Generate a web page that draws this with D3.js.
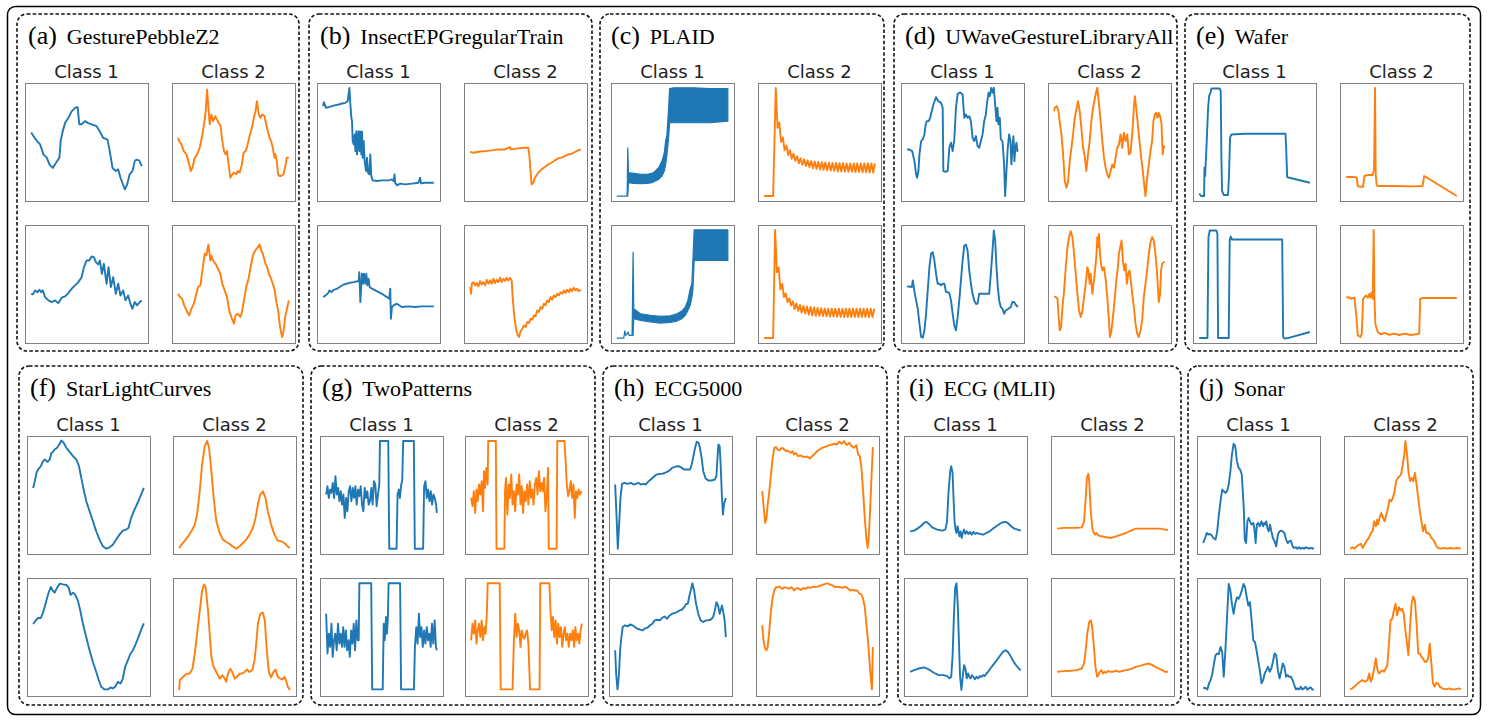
<!DOCTYPE html>
<html>
<head>
<meta charset="utf-8">
<script src="https://cdn.jsdelivr.net/npm/d3@7"></script>
<style>
  html, body { margin: 0; padding: 0; background: #fff; }
  svg { display: block; }
</style>
</head>
<body>
<svg id="chart" width="1488" height="720"></svg>
<script>
// Each series: [t, v] with t = % of series length, v = % of the axes height
// (PLAID class 1 is drawn as an envelope band: [t, upper, lower])

// (a) GesturePebbleZ2
const gestureC1A = [[0,58],[2.1,55],[5.1,51],[8.1,48],[11.1,39.5],[14.1,36.7],[16.5,31],[19.5,28],[22.5,32.4],[25.5,36.7],[26.7,51],[28.5,59],[30.6,66],[33.6,70.5],[36.6,76],[39.6,79],[42,79.5],[43.5,65],[45.6,65],[48.6,67.7],[51.6,66],[54.6,65],[59,63.5],[62,59],[65,53.6],[69,52],[71,42.3],[73.5,28],[76.5,25.4],[78.6,26.8],[80.7,19.7],[83,14],[84.6,9.9],[86.7,14],[89,22.6],[91.5,25.4],[93.6,33.8],[95,35],[97.5,34.4],[100,29.6]];
const gestureC2A = [[0,53.6],[0.9,50.8],[3,48],[5.1,42.3],[7.5,39.5],[9.6,32.4],[11.4,25.4],[12.9,28.2],[15,36.7],[17.1,39.5],[19.5,45],[21.9,56.4],[23.4,64.9],[24.9,76.1],[26.1,94.5],[27.6,76],[28.5,65],[30,73.3],[31.5,67.7],[33.6,71.9],[35.1,69],[36.6,66.3],[38.4,63.5],[39.9,50.8],[41.4,42.3],[42.9,39.5],[44.1,42.3],[45.6,31],[47.1,19.7],[48.9,22.6],[50.4,24],[52.5,22.6],[54,25.4],[55.5,24],[57.6,31],[59.1,40.9],[60.9,42.3],[62.4,46.5],[64.5,55],[66.6,62],[68.4,70.5],[69.9,76],[71.1,84.6],[72.9,73.3],[74.4,70.5],[75.9,73.3],[78,72],[79.5,65],[81,59.2],[82.5,53.6],[84,50.8],[85.5,45],[87,36.7],[87.9,39.5],[89.1,33.8],[90.3,22.6],[91.5,21.2],[93,21.2],[95.1,22.6],[96.9,29.6],[98.1,36.7],[100,36.7]];
const gestureC1B = [[0,41.7],[1.5,41.2],[3.6,44.6],[5.7,43.1],[7.5,45.1],[9,43.1],[10.5,44.6],[12.6,38.9],[15.6,36.1],[18.6,34.7],[21.6,36.1],[24.6,33.8],[27.6,38.4],[30.6,39.5],[33.6,42.3],[36.6,46],[39.6,48.8],[42.6,51.6],[45.6,55.8],[47.7,64.3],[50.1,69.9],[52.5,69.9],[54.6,73.3],[56.7,72.8],[58.5,68.5],[60.6,66.6],[62.1,69.9],[63.9,58.7],[65.7,67.1],[68.1,50.2],[69.9,64.3],[72,47.4],[74.1,55.8],[76.5,41.7],[78.6,50.2],[80.7,40.3],[83.1,44.6],[85.2,36.1],[87.6,40.3],[89.7,33.3],[91.5,29],[93.6,34.7],[95.7,31.9],[98.1,34.7],[100,36.1]];
const gestureC2B = [[0,41.7],[1.5,38.9],[3.6,37.5],[5.4,31.9],[7.5,27.6],[9.9,23.4],[12,29],[14.1,33.3],[16.5,41.7],[18,47.4],[20.1,48.8],[21.9,61.5],[24,75.6],[25.5,74.2],[27.3,83.5],[29.1,69.9],[30,74.2],[31.5,69.9],[33.9,67.1],[36,62.9],[38.1,58.7],[39.9,50.2],[42,44.6],[44.1,38.9],[46.5,26.2],[48.6,20.6],[50.4,16.4],[51.9,23.4],[54,24.8],[56.1,22],[57.6,26.2],[59.4,36.1],[61.5,47.4],[63.9,55.8],[65.7,65.7],[67.5,74.2],[69.6,78.4],[72,81.2],[73.5,83.5],[75,78.4],[76.5,75.6],[78.9,67.1],[80.4,64.3],[81.9,58.7],[83.4,55.8],[85.5,50.2],[87.3,44.6],[88.5,36.1],[90.3,27.6],[92.1,13.5],[93.9,5.1],[95.1,9.3],[96.9,23.4],[98.7,30.5],[100,36.1]];

// (b) InsectEPGregularTrain
const insectC1A = [[0,80.4],[0.6,83.8],[2.7,79],[5.1,79.5],[8.1,80.4],[11.1,81.2],[14.1,81.8],[17.1,82.6],[20.1,83.2],[22.2,84.6],[23.1,91.7],[23.7,95.9],[24.6,81.8],[25.5,70.5],[26.1,67.7],[26.7,50.8],[27.6,48],[28.5,56.4],[29.1,42.3],[30,59.2],[30.6,39.5],[31.5,55],[32.1,59.2],[32.7,42.3],[33.6,58.7],[34.5,39.5],[35.1,58.7],[35.7,36.7],[36.6,50.8],[37.5,33.8],[38.7,25.4],[39.6,36.7],[40.5,24],[41.7,22.6],[42.6,39.5],[43.5,21.2],[44.7,17.5],[48.6,16.9],[53.1,17.5],[59.1,17.5],[62.1,18.3],[63.6,16.9],[64.5,22.6],[65.1,15.5],[66.6,13.3],[69.6,14.7],[74.1,14.1],[80.1,14.7],[86.1,15.5],[87.6,19.7],[88.5,14.9],[92.1,15.5],[96.6,15.5],[100,15.5]];
const insectC2A = [[0,41.7],[3,40.9],[7.5,41.7],[13.5,42.3],[19.5,42.9],[25.5,43.7],[31.5,43.7],[36,45.7],[36.9,43.7],[43.5,44.6],[49.5,45.1],[52.5,45.1],[53.4,39.5],[54.3,28.2],[55.5,14.1],[57,15.5],[58.5,19.7],[61.5,24],[64.5,26.8],[67.5,28.8],[70.5,31],[73.5,32.4],[76.5,34.4],[79.5,36.1],[82.5,36.7],[85.5,38.1],[88.5,39.5],[91.5,40],[94.5,41.5],[97.5,42.9],[100,43.7]];
const insectC1B = [[0,38.9],[2.1,40.3],[4.5,42.3],[5.7,44.6],[7.5,43.1],[9.6,45.1],[12.6,46],[15.6,47.9],[18.6,49.6],[23.1,50.8],[27.6,51.6],[32.1,52.5],[32.7,60.1],[33.6,34.7],[34.5,50.2],[35.1,58.7],[36,50.2],[36.9,58.7],[38.1,50.2],[39,58.7],[39.9,48.8],[41.1,54.4],[42,47.4],[44.1,46],[47.1,44.6],[53.1,41.7],[57.6,38.9],[59.7,37.5],[60.6,46],[61.2,20.6],[62.1,30.5],[63.6,31.9],[66.6,33.3],[71.1,30.5],[77.1,31],[83.1,30.5],[89.1,31],[95.1,31],[100,31]];
const insectC2B = [[0,47.4],[0.9,41.7],[1.5,50.2],[3,51.6],[4.5,48.8],[6,50.8],[7.5,47.9],[9,52.5],[10.5,49.6],[12,51.6],[13.5,48.8],[15,53.6],[16.5,50.2],[18,53],[19.5,50.2],[21,54.4],[22.5,50.8],[24,53.6],[25.5,51.6],[27,55.3],[28.5,51.6],[30,54.4],[31.5,52.5],[33,55.3],[34.5,53],[36,55.3],[37.5,53],[38.4,38.9],[39.9,22],[41.4,12.1],[42.9,6.5],[44.1,5.1],[45.3,9.3],[47.1,12.1],[48.6,14.9],[50.1,13.5],[51.6,17.8],[53.1,16.9],[54.6,20.6],[56.1,19.7],[57.6,23.4],[59.1,22.6],[60.6,27.6],[62.1,26.2],[63.6,30.5],[65.1,29],[66.6,33.3],[68.1,31.9],[69.6,36.1],[71.1,34.7],[72.6,38.9],[74.1,36.7],[75.6,40.3],[77.1,38.9],[78.6,41.7],[80.1,40.3],[81.6,43.1],[83.1,41.7],[84.6,44.6],[86.1,42.3],[87.6,45.1],[89.1,43.1],[90.6,46],[92.1,43.9],[93.6,46.8],[95.1,44.6],[96.6,46],[98.1,43.9],[100,45.1]];

// (c) PLAID  class 1: [t, upper, lower] envelope of the dense oscillation
const plaidC1A = [[0,4.2,4.2],[9,4.2,4.2],[9.6,45.1,4.2],[10.2,24,15.5],[15,23.4,14.9],[21,22.6,14.7],[27,22.6,14.9],[31.5,23.4,15.5],[34.5,25.4,16.9],[37.5,28.2,18.3],[40.5,33.8,21.2],[42.6,40.9,25.4],[43.8,50.8,31],[45,56.4,39.5],[46.5,79,53.6],[47.4,95.3,66.3],[51,95.9,66.3],[69,95.9,66.3],[84,95.3,66.3],[100,95.3,67.7]];
const plaidC2A = [[0,4.2],[8.1,4.2],[10.5,95.9],[12.1,62],[13.7,66.5],[15.3,50],[16.9,54],[18.5,43],[20.1,47],[21.7,39],[23.3,43],[24.9,35.8],[26.5,40],[28.1,34],[29.7,38],[31.3,32],[32.9,36.2],[34.5,30.6],[36.1,35.3],[37.7,29.7],[39.3,34.6],[40.9,28.8],[42.5,33.8],[44.1,27.8],[45.7,33.4],[47.3,27.2],[48.9,33.2],[50.5,26.8],[52.1,32.9],[53.7,26.4],[55.3,32.6],[56.9,26],[58.5,32.4],[60.1,25.7],[61.7,32.3],[63.3,25.5],[64.9,32.2],[66.5,25.2],[68.1,32],[69.7,25],[71.3,32],[72.9,24.8],[74.5,31.9],[76.1,24.7],[77.7,31.9],[79.3,24.7],[80.9,31.9],[82.5,24.6],[84.1,31.9],[85.7,24.5],[87.3,31.9],[88.9,24.4],[90.5,31.9],[92.1,24.3],[93.7,31.9],[95.3,24.2],[96.9,31.9],[98.5,24.1],[100,31.9]];
const plaidC1B = [[0,4.2,4.2],[6,4.2,4.2],[6.9,10.2,10.2],[7.8,6.5,6.5],[9.9,9.3,9.3],[10.8,6.5,6.5],[13.5,6.5,6.5],[14.4,77,6.5],[15,29,20.6],[21,24.8,19.2],[30,23.4,17.8],[39,22.6,16.9],[48,23.1,17.5],[54,24.8,18.6],[58.5,27.1,20.6],[61.5,30.5,23.4],[63.9,36.1,27.6],[66,46,31.9],[67.5,50.2,38.9],[68.4,69.9,44.6],[69.6,95.9,69.9],[81,95.9,69.9],[100,95.9,69.9]];
const plaidC2B = [[0,4.2],[8.1,4.2],[9.9,95.9],[11.5,60],[13.1,64],[14.7,45.5],[16.3,50],[17.9,39],[19.5,42],[21.1,34.6],[22.7,37.8],[24.3,31.8],[25.9,35.3],[27.5,28.7],[29.1,33.6],[30.7,27.3],[32.3,32.2],[33.9,25.9],[35.5,31.4],[37.1,25],[38.7,30.9],[40.3,24],[41.9,30.5],[43.5,23.3],[45.1,30.2],[46.7,23.1],[48.3,29.8],[49.9,23],[51.5,29.5],[53.1,22.8],[54.7,29.2],[56.3,22.7],[57.9,29],[59.5,22.5],[61.1,29],[62.7,22.4],[64.3,29],[65.9,22.3],[67.5,29],[69.1,22.1],[70.7,29],[72.3,22],[73.9,29],[75.5,22],[77.1,29],[78.7,22],[80.3,29],[81.9,22],[83.5,29],[85.1,22],[86.7,29],[88.3,22],[89.9,29],[91.5,22],[93.1,29],[94.7,22],[96.3,29],[97.9,22],[99.5,29]];

// (d) UWaveGestureLibraryAll
const uwaveC1A = [[0,43.7],[2.1,43.7],[4.5,42.3],[6.6,33.8],[8.1,22.6],[9,19.7],[10.2,25.4],[11.1,39.5],[12.6,50.8],[14.1,52.2],[15.6,56.4],[16.5,63.5],[17.7,67.7],[19.5,67.7],[20.7,70.5],[22.2,76.1],[23.7,81.8],[26.1,88],[28.2,84.6],[30.6,83.2],[32.1,79],[32.7,25.4],[34.5,24.8],[36.6,25.4],[38.1,45.1],[39.6,49.4],[41.1,42.3],[42.6,52.2],[44.1,79],[45.6,90.8],[47.1,91.7],[48.6,91.7],[50.1,90.2],[51.6,70.5],[53.1,73.3],[54.6,70.5],[56.1,71.9],[57.6,67.7],[59.1,53.6],[60.6,50.8],[62.1,55],[63.6,46.5],[65.1,45.1],[66.6,50.8],[68.1,56.4],[69.6,67.7],[71.1,73.3],[72,81.8],[73.5,91.7],[74.7,88.8],[75.9,95.9],[77.1,91.7],[78.3,95.9],[79.5,81.8],[80.7,67.7],[81.6,79],[82.5,64.9],[83.7,70.5],[84.6,52.2],[86.1,50.8],[87.6,31],[88.5,4.2],[89.7,25.4],[90.9,45.1],[92.1,56.4],[93.3,50.8],[94.2,31],[95.1,45.1],[96,55],[96.9,33.8],[97.8,45.1],[98.7,49.4],[99.6,42.3],[100,43.7]];
const uwaveC2A = [[0,76.1],[0.6,79],[2.4,80.4],[3.9,76.1],[5.1,66.3],[6.6,56.4],[8.1,39.5],[9.6,16.9],[11.1,11.3],[12.6,16.9],[14.1,33.8],[15.6,45.1],[17.1,56.4],[18.6,70.5],[20.1,77.6],[21.6,84.6],[23.1,76.1],[24.6,62],[26.1,45.1],[27.6,38.1],[29.1,25.4],[30.6,39.5],[32.1,50.8],[33.6,67.7],[35.1,79],[36.6,86],[38.1,93.1],[39,95.9],[40.5,81.8],[42,67.7],[43.5,50.8],[45,36.7],[46.5,28.2],[48,22.6],[49.5,19.7],[51,25.4],[52.5,31],[54,28.2],[55.5,36.7],[57,45.1],[58.5,47.9],[60,56.4],[61.5,45.1],[63,57.8],[64.5,50.8],[66,56.4],[67.5,39.5],[69,40.9],[70.5,56.4],[72,79],[72.9,88.8],[74.1,79],[75.6,64.9],[77.1,50.8],[78.6,36.7],[80.1,25.4],[81.6,11.3],[82.5,4.2],[83.7,16.9],[85.5,31],[87,42.3],[88.5,50.8],[89.7,67.7],[90.9,73.3],[92.1,74.7],[93.3,70.5],[94.5,74.7],[96,70.5],[96.9,66.3],[98.1,39.5],[99,46.5],[100,45.1]];
const uwaveC1B = [[0,47.9],[2.1,47.9],[4.2,47.4],[5.1,53],[6,47.4],[6.9,41.7],[8.1,36.1],[9.6,29],[11.1,16.4],[12.6,5.1],[14.1,4.5],[15.6,10.7],[17.1,24.8],[18.6,44.6],[20.1,64.3],[21.6,75.6],[23.1,77],[24.6,69.9],[26.1,58.7],[27.6,50.2],[29.1,50.2],[30.6,48.8],[32.1,50.2],[33.6,50.2],[35.1,43.1],[36.6,43.1],[38.1,42.3],[39.6,36.1],[41.1,24.8],[42.6,14.9],[44.1,10.7],[45.6,22],[47.1,36.1],[48.6,53],[50.1,69.9],[51.6,82.6],[53.1,83.5],[54.6,78.4],[56.1,61.5],[57.6,50.2],[59.1,41.7],[60.6,36.1],[62.1,33.3],[63.6,33.3],[65.1,41.7],[71.1,41.7],[74.1,41.7],[75.6,58.7],[77.1,78.4],[78.3,95.3],[79.5,86.9],[80.7,64.3],[81.9,47.4],[83.1,36.1],[84.6,30.5],[86.1,29],[87.6,24.8],[89.1,27.6],[91.5,29],[93.6,30.5],[95.1,34.7],[96.6,34.7],[98.1,32.4],[100,30.5]];
const uwaveC2B = [[0,39.5],[1.5,38.9],[3,37.5],[3.9,24.8],[5.1,10.7],[6.3,13.5],[7.5,30.5],[9,44.6],[10.5,64.3],[12,81.2],[13.5,89.7],[15,94.8],[16.5,89.7],[18,75.6],[19.5,58.7],[21,41.7],[22.5,27.6],[24,22],[25.5,27.6],[27,38.9],[28.5,50.2],[30,64.3],[30.9,61.5],[32.1,50.2],[33,58.7],[34.5,41.7],[36,53],[36.9,61.5],[38.1,72.8],[39,89.7],[39.9,81.2],[40.5,92.5],[41.4,75.6],[42.3,67.1],[43.5,61.5],[45,64.3],[46.5,54.4],[48,38.9],[49.5,19.2],[50.4,5.1],[51.6,9.3],[53.1,22],[54.6,36.1],[56.1,53],[57.6,64.3],[58.5,75.6],[59.7,81.2],[60.9,86.9],[62.1,69.9],[63.3,61.5],[64.5,67.1],[65.7,50.2],[66.9,58.7],[68.1,61.5],[69.3,53],[70.5,41.7],[72,30.5],[73.5,16.4],[75,7.9],[76.5,5.1],[78,10.7],[79.5,19.2],[81,38.9],[82.5,50.2],[84,61.5],[85.5,75.6],[87,85.4],[88.5,89.7],[90,86.9],[91.5,75.6],[93,58.7],[94.5,34.7],[95.7,41.7],[96.6,61.5],[97.5,67.1],[99,68.5],[100,68.5]];

// (e) Wafer
const waferC1A = [[0,6.2],[2.1,4.2],[4.5,4.2],[4.8,28.2],[5.4,21.2],[6.6,45.1],[8.1,79],[9,88.8],[10.2,91.7],[11.1,95.3],[18.6,95.3],[19.5,93.1],[20.1,36.7],[20.7,8.5],[22.2,5.1],[26.1,5.1],[27,22.6],[27.9,53.6],[29.1,56.4],[41.1,57],[60,57],[78,57],[78.6,45.1],[79.5,20.3],[81.6,19.7],[100,15.5]];
const waferC2A = [[0,20.3],[7.5,20.3],[9.6,19.7],[10.5,12.7],[12,12.1],[15.3,12.1],[16.5,21.2],[19.5,22],[24,22],[25.2,26.8],[26.1,95.9],[26.7,22.6],[27.6,13.5],[28.5,12.7],[43.5,12.7],[58.5,12.4],[69,12.7],[70.5,21.2],[72,20.3],[100,4.2]];
const waferC1B = [[0,4.2],[7.5,4.2],[8.4,89.7],[9.6,95.3],[15.6,95.3],[16.5,92.5],[17.1,4.2],[26.7,4.2],[27.6,86.9],[28.5,90.2],[29.7,87.7],[75,87.7],[75.9,5.1],[77.1,3.7],[80.1,4.2],[100,9.3]];
const waferC2B = [[0,38.4],[2.1,38.9],[4.5,37.5],[7.5,38.4],[9,24.8],[10.5,6.5],[12.9,5.1],[14.1,7.9],[15.3,37.5],[16.5,38.9],[18,40.3],[19.5,38.4],[21,41.7],[21.9,38.4],[23.1,43.1],[24,37.5],[24.9,95.9],[25.5,38.9],[26.4,16.4],[27.6,12.1],[28.5,9.3],[31.5,7.3],[34.5,8.5],[39,7],[43.5,7.9],[48,6.8],[52.5,7.9],[58.5,6.8],[64.5,7.6],[66,7.9],[66.9,37.5],[69,38.1],[100,38.1]];

// (f) StarLightCurves
const starC1A = [[0,56],[1.5,61.7],[3,68.8],[4.5,71.6],[6.9,74.4],[9,78.7],[10.5,80.1],[12.9,78.1],[15,80.1],[16.5,85.7],[18,86.6],[19.5,88.6],[21.6,90],[24,93.4],[25.5,96.2],[27.6,94.2],[30,90],[33,86.6],[36,82.9],[39,80.1],[41.4,74.4],[43.5,64.5],[45.6,54.6],[48,44.7],[51,36.2],[54,27.7],[57,19.2],[60,12.2],[63,6.5],[66,4.5],[69,5.7],[72,7.9],[75,12.2],[78,16.4],[81,19.8],[84,20.7],[86.1,22.1],[88.5,30.6],[90.9,36.2],[93,40.5],[95.1,44.7],[97.5,50.4],[100,56]];
const starC2A = [[0,5.1],[2.1,7.9],[5.1,11.3],[8.1,15],[11.1,19.2],[14.1,24.9],[16.2,33.4],[18.6,53.2],[20.7,75.8],[23.1,91.4],[25.2,95.7],[27,90],[29.1,70.2],[31.2,47.5],[33.6,27.7],[36.6,17.8],[39.6,12.2],[42.6,10.2],[45.6,8.5],[48,6.5],[51.6,4.5],[54.6,6.5],[57.6,9.3],[60.6,12.2],[63.6,16.4],[66.6,22.1],[69,30.6],[71.1,41.9],[73.2,50.4],[75.6,53.2],[78,47.5],[80.1,36.2],[83.1,24.9],[86.1,16.4],[89.1,11.3],[92.1,10.8],[95.1,9.3],[98.1,6.5],[100,5.1]];
const starC1B = [[0,61],[2.1,63.8],[4.5,66.1],[6.9,66.1],[9,70.8],[11.1,77.8],[13.5,86.2],[15.9,92.4],[18,89],[19.5,87.6],[21.6,91.8],[24,95.2],[27,94.6],[30,94.1],[32.1,91.8],[33.9,85.7],[36,87.6],[38.1,85.7],[40.5,80.6],[42.6,72.2],[45,61],[48,49.8],[51,38.6],[54,28.8],[57,20.4],[59.1,14],[61.5,7.8],[64.5,5.6],[67.5,5.6],[69.9,7.3],[72,6.4],[74.1,7.8],[76.5,12],[78.9,10.6],[81,14.8],[83.1,24.6],[85.5,30.2],[87.9,35.8],[90,38.6],[92.1,42.8],[94.5,48.4],[97.5,56],[100,61.6]];
const starC2B = [[0,5],[0.6,13.4],[3,15.7],[5.1,17.6],[7.2,19],[9.6,19],[12,23.2],[14.1,35.8],[16.2,52.6],[18.6,72.2],[20.7,89],[22.5,94.6],[24,91.8],[26.1,72.2],[27.6,52.6],[29.1,33],[31.2,24.6],[33.6,20.4],[36.6,14.8],[39,17.6],[41.1,14.8],[42.6,12],[44.1,19],[46.2,23.2],[48,20.4],[50.1,14.8],[52.2,16.2],[54.6,19],[57,19],[59.1,20.4],[61.2,22.4],[63.6,20.4],[66,21.8],[68.1,30.2],[69.6,44.2],[71.1,61],[73.2,69.4],[75.6,70.8],[77.4,63.8],[79.2,38.6],[81,20.4],[83.1,15.7],[85.2,20.4],[87,22.4],[89.1,16.2],[91.2,14.8],[93.6,14],[95.1,16.2],[96.6,13.4],[98.1,7.8],[100,5]];

// (g) TwoPatterns
const twoPatC1A = [[0,50.4],[1.2,57.4],[2.4,47.5],[3.6,54.6],[4.8,51.8],[6,60.3],[7.2,47.5],[8.4,65.9],[9.6,50.4],[10.8,56],[12,44.7],[13.2,53.2],[14.4,41.9],[15.6,50.4],[16.8,30.6],[18,47.5],[19.2,36.2],[20.4,53.2],[21.6,57.4],[22.8,44.7],[24,56],[25.2,47.5],[26.4,57.4],[27.6,41.9],[28.8,54.6],[30,49],[31.2,57.4],[32.4,41.9],[33.6,36.2],[34.8,56],[36,47.5],[37.2,53.2],[38.4,41.9],[39.6,44.7],[40.8,56],[42,41.9],[43.2,61.7],[44.4,58.9],[45.6,40.5],[46.8,50.4],[48,58.9],[48.6,95.7],[56.1,95.7],[57,4.5],[63.6,4.5],[64.5,50.4],[65.7,54.6],[66.6,47.5],[67.8,58.9],[68.7,61.7],[69.6,95.7],[79.2,95.7],[80.1,4.5],[87.6,4.5],[88.5,57.4],[89.7,61.7],[90.9,47.5],[92.1,54.6],[93.3,44.7],[94.5,53.2],[95.7,41.9],[96.9,50.4],[98.1,47.5],[99.3,41.9],[100,34.8]];
const twoPatC2A = [[0,47.5],[1.2,40.5],[2.4,53.2],[3.6,34.8],[4.8,54.6],[5.9,44.7],[7.1,58.9],[8.3,50.4],[9.5,61.7],[10.7,36.2],[11.6,70.2],[12.5,56],[13.7,73],[14.9,58.9],[15.4,95.7],[22.3,95.7],[22.9,4.5],[30,4.5],[30.6,53.2],[31.5,64.5],[32.7,33.4],[33.9,58.9],[35,47.5],[36.2,67.4],[37.4,41.9],[38.6,53.2],[39.8,36.2],[41,58.9],[42.2,50.4],[43.4,67.4],[44.6,41.9],[45.7,57.4],[46.9,34.8],[48.1,53.2],[49.3,44.7],[50.5,58.9],[51.7,41.9],[52.9,61.7],[54.1,47.5],[55.2,54.6],[56.4,41.9],[57.6,58.9],[58.8,64.5],[60,50.4],[61.2,70.2],[62.4,53.2],[63.6,60.3],[64.7,53.2],[65.9,64.5],[67.1,36.2],[68.3,50.4],[69.5,73],[70.1,4.5],[77.2,4.5],[77.8,95.7],[84.3,95.7],[85.2,81.5],[86.4,58.9],[87.6,49],[88.8,53.2],[90,61.7],[91.2,47.5],[92.4,58.9],[93.6,30.6],[94.7,53.2],[95.9,47.5],[97.1,54.6],[98.3,50.4],[99.8,53.2]];
const twoPatC1B = [[0,69.7],[1.2,36],[2.4,52.8],[3.6,41.6],[4.8,61.3],[5.9,33.2],[7.1,47.2],[8.3,52.8],[9.5,38.8],[10.7,61.3],[11.9,44.4],[13.1,52.8],[14.3,41.6],[15.4,58.4],[16.6,41.6],[17.8,55.6],[19,38.8],[20.2,47.2],[21.4,33.2],[22.6,55.6],[23.8,44.4],[24.9,61.3],[26.1,38.8],[27.3,64.1],[28.5,47.2],[29.4,47.2],[30,95.5],[40.7,95.5],[41.6,5.6],[51.1,5.6],[52,61.3],[52.9,47.2],[54.1,66.9],[54.9,52.8],[55.8,66.9],[56.4,95.5],[66.8,95.5],[67.7,5.6],[79.3,5.6],[80.2,41.6],[81.4,58.4],[82.6,44.4],[83.8,69.7],[84.9,50],[86.1,58.4],[87.3,41.6],[88.5,55.6],[89.7,44.4],[90.9,58.4],[92.1,47.2],[93.3,52.8],[94.4,41.6],[95.6,61.3],[96.8,44.4],[98,64.1],[99.2,41.6],[100,38.8]];
const twoPatC2B = [[0,47.2],[1.2,61.3],[2.4,52.8],[3.6,64.1],[4.8,44.4],[5.9,55.6],[7.1,61.3],[8.3,50],[9.5,64.1],[10.7,47.2],[11.9,58.4],[13.1,52.8],[14.3,72.5],[14.9,95.5],[25.8,95.5],[26.7,5.6],[37.4,5.6],[38.6,47.2],[39.8,69.7],[41,50],[42.2,61.3],[43.4,55.6],[44.6,41.6],[45.7,55.6],[46.9,50],[48.1,48.6],[49.3,52.8],[50.5,55.6],[51.7,44.4],[52.6,21.9],[53.2,5.6],[61.8,5.6],[62.4,95.5],[70.7,95.5],[71.6,72.5],[72.8,55.6],[73.9,66.9],[75.1,50],[76.3,64.1],[77.5,44.4],[78.7,61.3],[79.9,50],[81.1,58.4],[82.3,41.6],[83.5,52.8],[84.6,58.4],[85.8,47.2],[87,52.8],[88.2,41.6],[89.4,52.8],[90.6,47.2],[91.8,55.6],[93,41.6],[94.1,58.4],[95.3,47.2],[96.5,52.8],[97.7,44.4],[98.9,55.6],[100,61.3]];

// (h) ECG5000
const ecg5kC1A = [[0,58.9],[1.2,33.4],[2.4,4.5],[3.6,24.9],[4.8,47.5],[6.2,59.4],[8.3,60.3],[11.3,59.4],[14.3,60.3],[16.6,58.9],[18.7,59.4],[21.1,60.3],[23.2,58.9],[25.5,59.4],[27.6,58.9],[29.7,61.1],[32.1,63.1],[34.5,65.1],[36.5,66.8],[39.5,67.9],[42.5,67.9],[44.8,68.8],[46.9,69.6],[49.3,70.8],[51.4,73],[53.5,73.6],[55.8,74.4],[58.2,74.1],[60.3,73],[62.4,71.6],[64.7,71.6],[67.7,71.6],[69.2,75.8],[70.7,82.9],[72.2,90],[73.7,95.1],[75.4,94.2],[76.6,90],[78.1,81.5],[79.6,70.2],[81.7,64],[84.1,62.3],[87,62.3],[90,63.1],[91.5,65.9],[92.4,81.5],[93.3,92.8],[94.4,91.4],[95.3,75.8],[96.5,47.5],[97.4,33.4],[98.3,41.9],[100,47.5]];
const ecg5kC2A = [[0,53.2],[1.2,41.9],[2.7,26.3],[3.9,30.6],[5,41.9],[6.5,53.2],[8,67.4],[9.5,81.5],[11,90],[12.5,90.6],[14,88.6],[15.4,87.7],[16.9,89.4],[18.4,90],[19.9,88.6],[21.4,87.2],[22.9,87.7],[24.4,86.6],[25.8,85.7],[27.3,87.2],[28.8,84.3],[30.3,85.7],[32.4,82.9],[34.7,83.5],[37.7,82.1],[40.7,82.6],[43.1,80.9],[45.1,82.9],[47.5,84.9],[49.6,87.2],[52,88.6],[54.1,90],[56.1,90.6],[58.5,91.4],[60.9,92.3],[63,92.8],[65,93.4],[67.4,92.8],[69.8,95.1],[71.9,93.4],[74,95.7],[76.3,92.3],[78.7,94.2],[80.8,91.4],[82.9,90],[85.2,92.3],[86.7,84.3],[88.2,82.9],[89.7,73],[91.2,53.2],[92.7,30.6],[94.1,13.6],[95.3,5.1],[96.5,16.4],[98,47.5],[98.9,67.4],[100,90.6]];
const ecg5kC1B = [[0,38.8],[0.9,19.1],[2.1,5.6],[3.3,16.3],[4.5,38.8],[5.3,47.2],[6.8,58.4],[8.9,59.9],[11.3,59],[13.7,60.7],[15.7,59.9],[17.8,58.4],[20.2,57],[22.6,56.2],[24.7,55.6],[26.7,57],[29.1,57.9],[31.5,59.9],[33.6,61.3],[35.6,64.1],[38,64.6],[40.4,64.1],[42.5,66.3],[44.6,67.4],[46.9,65.5],[49.3,68.3],[51.4,69.7],[53.5,70.3],[55.8,71.1],[58.2,72.5],[60.3,73.1],[62.4,75.3],[64.2,78.1],[65.6,78.1],[66.8,83.7],[68.3,89.4],[69.8,95.5],[71.3,89.4],[73.1,78.1],[75.1,69.7],[77.2,64.1],[79.6,62.7],[82,64.1],[84.1,64.1],[86.1,64.6],[88.5,66.9],[90,72.5],[91.5,79.5],[93,76.7],[94.4,69.7],[95.3,72.5],[96.5,76.7],[97.4,72.5],[98.9,64.1],[100,50]];
const ecg5kC2B = [[0,59.9],[1.2,47.2],[2.7,40.2],[3.9,38.8],[5,41.6],[6.5,55.6],[8,72.5],[9.5,83.7],[11,89.4],[12.5,92.2],[14,92.2],[15.4,92.7],[16.9,91.6],[18.4,90.8],[19.9,92.2],[22.3,91.6],[24.4,90.8],[26.4,92.2],[28.8,89.4],[30.3,90.8],[32.4,91.6],[34.7,89.9],[37.1,91.6],[39.2,90.8],[41.3,92.2],[43.7,91.6],[46,92.7],[48.1,92.2],[50.2,92.7],[52.6,93.6],[54.9,94.4],[57,95],[59.1,95.5],[61.5,94.4],[63.9,93.6],[65.9,92.2],[68,92.7],[70.4,92.2],[72.8,91.6],[74.8,92.7],[76.9,91.6],[79.3,89.4],[81.7,89.9],[83.8,89.4],[85.8,89.4],[87.6,87.1],[89.7,86],[91.2,82.3],[92.7,75.3],[94.1,61.3],[95.6,47.2],[97.1,27.5],[98.3,13.5],[99.2,5.6],[100,41.6]];

// (i) ECG (MLII)
const mliiC1A = [[0,19.2],[3.6,19.8],[6.5,21.5],[9.5,23.5],[12.5,26.3],[14.9,27.2],[16.9,25.5],[19.9,22.6],[24.4,20.7],[28.8,19.8],[31.8,20.7],[33.3,27.7],[34.7,53.2],[36.2,70.2],[37.1,74.4],[38.3,68.8],[39.2,47.5],[40.1,27.7],[41,20.7],[41.9,17.8],[42.8,23.5],[43.7,19.2],[44.6,15],[45.5,19.2],[46.6,13.6],[47.5,17.8],[48.7,20.7],[49.9,17],[51.1,19.2],[52.6,17],[54.1,18.7],[55.5,16.4],[57,18.7],[58.5,17],[60,17.8],[63,17],[65.9,16.4],[68.9,17.8],[71.9,19.2],[74.8,21.5],[77.8,23.5],[80.8,25.5],[83.8,26.9],[86.1,27.2],[88.2,26.3],[91.2,23.5],[94.1,21.5],[97.1,20.7],[100,19.8]];
const mliiC2A = [[0,21.5],[5.9,22.1],[17.8,22.1],[22.2,22.6],[24.3,27.7],[25.8,47.5],[26.9,64.5],[28.1,67.9],[29,61.7],[30.2,39.1],[31.7,22.1],[33.2,17.8],[34.3,16.4],[35.5,17.8],[37,15.8],[40,15],[44.4,14.2],[48.8,13.6],[53.3,15],[57.7,16.4],[62.2,17.8],[66.6,19.8],[71,21.5],[79.9,21.5],[88.8,21.5],[93.2,21.5],[97.7,20.7],[100,20.1]];
const mliiC1B = [[0,20.5],[3.6,21.9],[8,23.3],[12.5,24.2],[16.9,22.5],[21.4,19.7],[25.8,17.7],[30.3,17.7],[33.3,16.9],[35.6,14.9],[37.1,16.3],[38.3,33.2],[39.5,66.9],[40.7,92.2],[41.9,95.5],[43.1,75.3],[44.3,38.8],[45.1,16.3],[46.3,5.1],[47.5,16.3],[48.7,26.1],[49.9,23.3],[51.1,14.9],[52.3,19.1],[53.5,16.3],[54.6,14.9],[55.8,17.7],[57,16.3],[58.5,14.1],[60,16.3],[61.5,14.9],[63,16.9],[64.4,16.3],[65.9,17.7],[67.4,16.9],[68.9,19.1],[70.4,20.5],[72.5,23.3],[74.8,26.1],[77.8,29.8],[80.8,33.7],[83.8,37.4],[86.1,38.8],[88.2,37.4],[90.3,34.6],[92.7,30.3],[95.6,26.1],[98,23.3],[100,21.9]];
const mliiC2B = [[0,20.5],[5.9,21.1],[11.8,21.4],[17.8,21.9],[22.2,23.3],[24.3,27.5],[25.8,38.8],[27.2,52.8],[29,62.7],[30.5,64.1],[31.7,58.4],[33.2,41.6],[34.6,24.7],[36.1,16.3],[37.3,17.7],[38.5,20.5],[40,21.9],[41.4,19.1],[42.9,20.5],[44.4,19.7],[45.9,21.4],[47.4,20.5],[50.3,20.5],[53.3,21.4],[56.2,20.5],[59.2,21.4],[62.2,21.9],[65.1,22.5],[68.1,23.3],[71,24.7],[74,25.3],[77,26.1],[79.9,27],[82.9,27.5],[85.8,26.1],[88.8,24.7],[91.8,23.3],[94.7,21.9],[97.7,20.5],[100,20.5]];

// (j) Sonar
const sonarC1A = [[0,9.3],[1.8,13.6],[3.3,17.8],[4.7,16.4],[6.2,17],[7.7,15.8],[9.2,13.6],[11.2,12.2],[12.7,19.2],[14.2,33.4],[15.7,44.7],[17.2,54.6],[18.6,53.2],[20.1,51.8],[21.6,53.2],[23.1,58.9],[24.6,70.2],[26,84.3],[27.5,93.4],[29,91.4],[30.5,78.7],[32,73],[33.4,71.6],[34.9,67.4],[35.8,53.2],[36.7,39.1],[37.6,12.2],[38.8,9.3],[40,27.7],[41.1,30.6],[42.3,27.7],[43.8,24.9],[45.3,26.3],[46.2,22.1],[47.4,9.3],[48.5,24.9],[49.7,26.3],[51.2,23.5],[52.7,27.7],[54.2,23.5],[55.1,26.3],[56.2,24.9],[57.1,27.7],[58,22.1],[59.2,19.2],[60.4,24.9],[61.6,19.2],[63,13.6],[64.5,10.8],[66,6.5],[67.5,16.4],[69,19.2],[70.4,19.8],[71.9,19.2],[73.4,17.8],[74.9,12.2],[76.4,9.3],[77.8,10.8],[79.3,11.3],[80.8,6.5],[82.3,5.1],[83.8,5.7],[85.2,4.5],[86.7,5.7],[88.2,4.5],[89.7,5.1],[91.2,4.5],[92.6,5.7],[94.1,5.1],[95.6,4.5],[97.1,5.1],[98.6,4.5],[100,5.1]];
const sonarC2A = [[0,4.5],[2.1,5.7],[3.9,4.5],[5.9,6.5],[8,7.9],[9.8,8.5],[11.3,5.1],[12.8,7.9],[14.9,11.3],[16.9,13.6],[18.7,17.8],[20.2,19.2],[21.7,27.7],[23.2,23.5],[24.4,29.1],[25.2,24.9],[26.7,31.1],[28.2,34.8],[29.7,30.6],[31.2,27.7],[32.7,33.4],[34.2,39.1],[35.6,46.1],[37.1,44.7],[38.6,47.5],[40.1,53.2],[41.6,61.7],[43.1,64.5],[44.6,65.9],[46,67.4],[47.5,75.8],[49,84.3],[49.9,95.7],[51.4,84.3],[52.6,70.2],[54.1,61.7],[55.5,64.5],[57,61.7],[58.5,68.8],[60,58.9],[61.5,47.5],[63,36.2],[64.4,27.7],[65.9,19.2],[67.4,24.9],[68.9,17.8],[70.4,17.8],[71.9,16.4],[73.4,13.6],[75.1,12.2],[76.6,9.3],[78.1,6.5],[79.6,5.1],[81.7,4.5],[84.6,5.1],[87.6,4.5],[90.6,5.1],[93.6,4.5],[96.5,5.1],[100,4.5]];
const sonarC1B = [[0,6.5],[1.8,7],[3.8,5.6],[5.3,10.7],[6.8,13.5],[8.3,19.1],[9.8,27.5],[11.2,34.6],[12.7,36],[14.2,35.4],[15.7,41.6],[17.2,37.4],[18.6,16.3],[20.1,38.8],[21.6,66.9],[23.1,95],[24.6,89.4],[26,78.1],[27.5,69.7],[29,78.1],[30.5,83.7],[32,82.3],[33.4,85.1],[34.9,89.4],[36.4,95],[37.9,92.2],[39.4,83.7],[40.8,76.7],[42.3,79.5],[43.8,64.1],[45.3,47.2],[46.8,45.8],[48.2,38.8],[49.7,30.3],[51.2,21.9],[52.7,10.7],[54.2,13.5],[55.6,19.1],[57.1,21.9],[58.6,24.7],[60.1,20.5],[61.6,23.3],[63,28.9],[64.5,36],[66,34.6],[67.5,21.9],[69,14.9],[70.4,20.5],[71.9,27.5],[73.4,24.7],[74.9,16.3],[76.4,17.7],[77.8,16.3],[79.3,16.3],[80.8,13.5],[82.3,9.3],[83.8,5.6],[85.2,6.5],[86.7,5.6],[88.2,7.9],[89.7,5.6],[91.2,6.5],[92.6,7.9],[94.1,5.6],[95.6,6.5],[97.1,7.3],[98.6,5.6],[100,5.1]];
const sonarC2B = [[0,5.6],[2.1,6.5],[4.5,8.4],[6.8,10.7],[8.9,12.1],[11,13.5],[13.4,12.1],[15.7,13.5],[17.2,19.1],[18.7,12.1],[20.2,16.3],[21.7,23.3],[23.2,31.8],[24.7,21.9],[26.1,19.1],[27.6,20.5],[29.1,21.9],[30.6,20.5],[32.1,23.3],[33.6,26.1],[35,44.4],[36.5,64.1],[38,65.5],[39.5,72.5],[41,78.1],[42.5,68.3],[44,75.3],[45.4,72.5],[46.9,73.9],[48.4,69.7],[49.9,55.6],[51.4,44.4],[52.6,34.6],[54.1,58.4],[55.5,78.1],[57,84.3],[58.5,80.9],[60,61.3],[61.5,36],[63,36],[64.4,33.2],[65.9,31.8],[67.4,28.9],[68.9,28.9],[70.4,31.8],[71.9,44.4],[73.4,27.5],[74.8,10.7],[76.3,7.9],[77.8,11.2],[79.3,10.7],[80.8,7.9],[83.2,6.5],[86.1,5.6],[89.1,6.5],[92.1,5.6],[95,5.6],[98,6.5],[100,5.6]];

const panelLetters = ["a", "b", "c", "d", "e", "f", "g", "h", "i", "j"];
const panelNames = ["GesturePebbleZ2", "InsectEPGregularTrain", "PLAID", "UWaveGestureLibraryAll", "Wafer",
  "StarLightCurves", "TwoPatterns", "ECG5000", "ECG (MLII)", "Sonar"];
const classLabels = ["Class 1", "Class 2"];

// series per panel: [class1 top, class2 top, class1 bottom, class2 bottom]
const panelSeries = [
  [gestureC1A, gestureC2A, gestureC1B, gestureC2B],
  [insectC1A, insectC2A, insectC1B, insectC2B],
  [plaidC1A, plaidC2A, plaidC1B, plaidC2B],
  [uwaveC1A, uwaveC2A, uwaveC1B, uwaveC2B],
  [waferC1A, waferC2A, waferC1B, waferC2B],
  [starC1A, starC2A, starC1B, starC2B],
  [twoPatC1A, twoPatC2A, twoPatC1B, twoPatC2B],
  [ecg5kC1A, ecg5kC2A, ecg5kC1B, ecg5kC2B],
  [mliiC1A, mliiC2A, mliiC1B, mliiC2B],
  [sonarC1A, sonarC2A, sonarC1B, sonarC2B],
];

// ---- layout ----
const COLORS = ["#1f77b4", "#ff7f0e"];
const rowTop = [14, 366], rowBottom = [351, 705];
const panelLeft = [[17, 309, 600, 894, 1185], [19, 311, 603, 898, 1188]];
const panelRight = [[299, 592, 884, 1177, 1470], [303, 595, 887, 1181, 1473]];
const boxLeft = [
  [[25, 172], [317, 464], [611, 758], [901, 1048], [1193, 1340]],
  [[27, 173], [320, 465], [609, 756], [904, 1051], [1197, 1344]],
];
const boxTop = [[83, 225], [436, 578]];
const BOX_W = 123, BOX_H = 118;

const svg = d3.select("#chart");

// outer frame
svg.append("rect")
  .attr("x", 7.5).attr("y", 6.5)
  .attr("width", 1473).attr("height", 708)
  .attr("rx", 8)
  .attr("fill", "none")
  .attr("stroke", "#000")
  .attr("stroke-width", 1.5);

panelLetters.forEach((letter, p) => {
  const row = Math.floor(p / 5), col = p % 5;
  const px0 = panelLeft[row][col], px1 = panelRight[row][col];
  const py0 = rowTop[row], py1 = rowBottom[row];
  const g = svg.append("g");

  // dashed panel frame
  g.append("rect")
    .attr("x", px0).attr("y", py0)
    .attr("width", px1 - px0).attr("height", py1 - py0)
    .attr("rx", 10)
    .attr("fill", "none")
    .attr("stroke", "#111")
    .attr("stroke-width", 1.6)
    .attr("stroke-dasharray", "3.5,2.2");

  // title: "(a)" + dataset name
  const tx = px0 + 11, ty = py0 + 30;
  const lab = g.append("text")
    .attr("x", tx).attr("y", ty)
    .attr("font-family", "'Liberation Serif', 'Times New Roman', serif")
    .attr("font-size", 26)
    .attr("fill", "#000")
    .text(`(${letter})`);
  const labW = lab.node().getComputedTextLength();
  g.append("text")
    .attr("x", tx + labW + 10).attr("y", ty)
    .attr("font-family", "'Liberation Serif', 'Times New Roman', serif")
    .attr("font-size", 22)
    .attr("fill", "#000")
    .text(panelNames[p]);

  // class headers
  [0, 1].forEach((c) => {
    g.append("text")
      .attr("x", boxLeft[row][col][c] + BOX_W / 2)
      .attr("y", boxTop[row][0] - 5)
      .attr("text-anchor", "middle")
      .attr("font-family", "'DejaVu Sans', sans-serif")
      .attr("font-size", 18)
      .attr("fill", "#222")
      .text(classLabels[c]);
  });

  // four small axes
  panelSeries[p].forEach((series, k) => {
    const c = k % 2, r = Math.floor(k / 2);
    const bx = boxLeft[row][col][c], by = boxTop[row][r];
    const x = d3.scaleLinear().domain([0, 100]).range([bx + BOX_W * 0.05, bx + BOX_W * 0.95]);
    const y = d3.scaleLinear().domain([0, 100]).range([by + BOX_H, by]);

    if (series[0].length === 3) {
      // envelope band of a dense oscillation
      const area = d3.area()
        .x((d) => x(d[0]))
        .y0((d) => y(d[2]))
        .y1((d) => y(d[1]));
      g.append("path")
        .datum(series)
        .attr("d", area)
        .attr("fill", COLORS[c])
        .attr("stroke", COLORS[c])
        .attr("stroke-width", 1.2)
        .attr("stroke-linejoin", "round");
    } else {
      const line = d3.line().x((d) => x(d[0])).y((d) => y(d[1]));
      g.append("path")
        .datum(series)
        .attr("d", line)
        .attr("fill", "none")
        .attr("stroke", COLORS[c])
        .attr("stroke-width", 1.9)
        .attr("stroke-linejoin", "round");
    }

    g.append("rect")
      .attr("x", bx + 0.5).attr("y", by + 0.5)
      .attr("width", BOX_W).attr("height", BOX_H)
      .attr("fill", "none")
      .attr("stroke", "#808080")
      .attr("stroke-width", 1);
  });
});
</script>
</body>
</html>
